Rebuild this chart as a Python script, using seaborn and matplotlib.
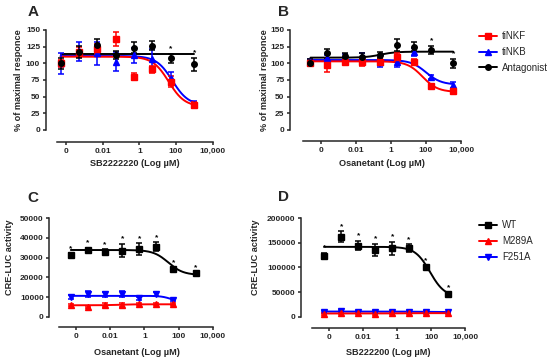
import numpy as np
import pandas as pd
import seaborn as sns
import matplotlib.pyplot as plt
from matplotlib.lines import Line2D

"""
values read off the figure, x is log10 of concentration (uM)
"""
conc = [-4.3, -3.3, -2.3, -1.3, -0.3, 0.7, 1.7, 3.0]
conc_b = [-4.6, -3.65, -2.65, -1.65, -0.65, 0.35, 1.3, 2.3, 3.55]
tick_pos = [-4, -2, 0, 2, 4]
tick_lab = ["0", "0.01", "1", "100", "10,000"]

# panel A (SB2222220)
a_tinkf = [100, 117, 121.5, 136.5, 80, 91, 72.5, 37.5]
a_tinkf_err = [5, 8, 8, 10, 5, 5, 8, 4]
a_tinkb = [100, 118, 115, 102.5, 112, 107, 77.5, 39]
a_tinkb_err = [16, 14, 17, 14, 11, 14, 10, 4]
a_antag = [100, 117.5, 127.5, 112.5, 123.5, 126.5, 107.5, 98.5]
a_antag_err = [8, 9, 9, 6, 8, 7, 7, 10]

# panel B (Osanetant)
b_tinkf = [100, 97.5, 102.5, 101.5, 102.5, 109, 102.5, 66, 59]
b_tinkf_err = [4, 10, 3, 6, 5, 6, 4, 3, 3]
b_tinkb = [102, 107.5, 110, 110, 102.5, 102.5, 117.5, 79, 67.5]
b_tinkb_err = [4, 5, 4, 6, 8, 8, 6, 3, 4]
b_antag = [101, 115, 111.5, 110, 112.5, 127.5, 125, 120, 100]
b_antag_err = [5, 7, 4, 5, 5, 9, 7, 6, 7]

# panel C (Osanetant, CRE-LUC)
c_wt = [31340, 33900, 33000, 33550, 34200, 35560, 24060, 22030]
c_wt_err = [800, 1000, 1200, 3400, 3000, 2200, 800, 500]
c_m289a = [5950, 5100, 5950, 5950, 6460, 6290, 6290]
c_m289a_err = [600, 500, 900, 1000, 600, 500, 500]
c_f251a = [10160, 11350, 11350, 11520, 9330, 11350, 8480]
c_f251a_err = [1000, 1500, 1200, 1500, 800, 1000, 700]

# panel D (SB222200, CRE-LUC)
d_wt = [123400, 162700, 144400, 135600, 139000, 139000, 100400, 45500]
d_wt_err = [7000, 11000, 9500, 12000, 13000, 8500, 2500, 2500]
d_m289a = [6000, 6500, 6500, 6000, 7000, 7000, 7500, 7000]
d_m289a_err = [2000, 2000, 2000, 2000, 2000, 2000, 2000, 2000]
d_f251a = [10000, 11500, 10500, 10000, 10500, 10500, 9500, 9000]
d_f251a_err = [1500, 1500, 1500, 1500, 1500, 1500, 1500, 1500]

# fitted curves: value at left, value at right, log mid point, slope
a_tinkf_fit = [110, 35, 1.6, 1.0]
a_tinkb_fit = [111, 37, 1.8, 1.0]
a_antag_fit = [113.5, 113.5, 0.0, 1.0]
b_tinkf_fit = [103, 57, 1.8, 1.0]
b_tinkb_fit = [105, 68, 2.0, 1.0]
b_antag_fit = [108.5, 117.5, -0.6, 1.0]
c_wt_fit = [33900, 21200, 1.4, 1.0]
c_m289a_fit = [5800, 6300, -1.5, 1.0]
c_f251a_fit = [10600, 7500, 1.55, 1.5]
d_wt_fit = [142000, 40000, 1.93, 1.0]
d_m289a_fit = [6500, 7200, 0.0, 1.0]
d_f251a_fit = [10500, 9500, 1.0, 1.0]

# points with a significance star
a_star = [6, 7]
b_star = [7, 8]
c_star = [0, 1, 2, 3, 4, 5, 6, 7]
d_star = [0, 1, 2, 3, 4, 5, 6, 7]

RED = "#ff0000"
BLUE = "#0000ff"
BLACK = "#000000"

sns.set_style("ticks")
plt.rcParams["font.family"] = ["Liberation Sans", "DejaVu Sans"]
plt.rcParams["font.weight"] = "bold"

fig = plt.figure(figsize=(5.5, 3.6), dpi=100)


def sigmoid(x, fit):
    left, right, mid, slope = fit
    return right + (left - right) / (1 + 10 ** ((x - mid) * slope))


def draw_series(ax, x, y, err, fit, color, marker, ms=4, stars=None):
    xs = np.linspace(x[0], x[-1], 200)
    sns.lineplot(x=xs, y=sigmoid(xs, fit), color=color, lw=1.4, ax=ax)
    ax.errorbar(x, y, yerr=err, fmt=marker, color=color, ms=ms,
                elinewidth=1.1, capsize=2, capthick=1.1, zorder=3, clip_on=False)
    if stars:
        for i in stars:
            ax.annotate("*", (x[i], y[i] + err[i]), xytext=(0, 1),
                        textcoords="offset points", ha="center", va="bottom",
                        fontsize=6, color=color, annotation_clip=False)


def style_axes(ax, xlim, spine_left, ylim, yticks, xlabel, ylabel, ylab_pos, xlab_pos, offset):
    ax.set_xlim(*xlim)
    ax.set_ylim(*ylim)
    ax.set_yticks(yticks)
    ax.set_xticks(tick_pos)
    ax.set_xticklabels(tick_lab)
    sns.despine(ax=ax)
    ax.spines["bottom"].set_position(("outward", offset))
    ax.spines["bottom"].set_bounds(spine_left, 4)
    for s in ["left", "bottom"]:
        ax.spines[s].set_linewidth(1.1)
    ax.tick_params(length=2.5, width=1.1, labelsize=6, pad=1.5)
    for lab in ax.get_xticklabels() + ax.get_yticklabels():
        lab.set_fontweight("bold")
    ax.set_xlabel(xlabel, fontsize=6.6, fontweight="bold")
    ax.set_ylabel(ylabel, fontsize=6.6, fontweight="bold")
    ax.xaxis.set_label_coords(*xlab_pos)
    ax.yaxis.set_label_coords(*ylab_pos)


# panel A
axA = fig.add_axes([0.0831, 0.6389, 0.3053, 0.2778])
draw_series(axA, conc, a_tinkb, a_tinkb_err, a_tinkb_fit, BLUE, "^")
draw_series(axA, conc, a_tinkf, a_tinkf_err, a_tinkf_fit, RED, "s")
draw_series(axA, conc, a_antag, a_antag_err, a_antag_fit, BLACK, "o", stars=a_star)
style_axes(axA, (-5.11, 4.05), -4.5, (0, 150), [0, 25, 50, 75, 100, 125, 150],
           "SB2222220 (Log µM)", "% of maximal responce", (-0.135, 0.5), (0.53, -0.29), 9)

# panel B
axB = fig.add_axes([0.5273, 0.6389, 0.3125, 0.2778])
draw_series(axB, conc_b, b_tinkb, b_tinkb_err, b_tinkb_fit, BLUE, "^")
draw_series(axB, conc_b, b_tinkf, b_tinkf_err, b_tinkf_fit, RED, "s")
draw_series(axB, conc_b, b_antag, b_antag_err, b_antag_fit, BLACK, "o", stars=b_star)
style_axes(axB, (-5.77, 4.05), -5, (0, 150), [0, 25, 50, 75, 100, 125, 150],
           "Osanetant (Log µM)", "% of maximal responce", (-0.12, 0.5), (0.533, -0.29), 8)

# panel C
axC = fig.add_axes([0.0896, 0.1203, 0.2987, 0.2733])
draw_series(axC, conc[:7], c_f251a, c_f251a_err, c_f251a_fit, BLUE, "v")
draw_series(axC, conc[:7], c_m289a, c_m289a_err, c_m289a_fit, RED, "^")
draw_series(axC, conc, c_wt, c_wt_err, c_wt_fit, BLACK, "s", stars=c_star)
style_axes(axC, (-5.56, 4.05), -5, (0, 50000), [0, 10000, 20000, 30000, 40000, 50000],
           "Osanetant (Log µM)", "CRE-LUC activity", (-0.215, 0.6), (0.532, -0.315), 7.5)

# panel D
axD = fig.add_axes([0.5473, 0.1203, 0.3, 0.2733])
draw_series(axD, conc, d_f251a, d_f251a_err, d_f251a_fit, BLUE, "v")
draw_series(axD, conc, d_m289a, d_m289a_err, d_m289a_fit, RED, "^")
draw_series(axD, conc, d_wt, d_wt_err, d_wt_fit, BLACK, "s", stars=d_star)
style_axes(axD, (-5.66, 4.05), -5, (0, 200000), [0, 50000, 100000, 150000, 200000],
           "SB222200 (Log µM)", "CRE-LUC activity", (-0.25, 0.6), (0.529, -0.315), 8.5)

# panel letters
for lab, x, y in [("A", 0.06, 0.967), ("B", 0.515, 0.967), ("C", 0.06, 0.45), ("D", 0.515, 0.453)]:
    fig.text(x, y, lab, fontsize=11, fontweight="bold", ha="center", va="center")

# legends
top_handles = [Line2D([], [], color=RED, marker="s", ms=4, lw=1.4),
               Line2D([], [], color=BLUE, marker="^", ms=4, lw=1.4),
               Line2D([], [], color=BLACK, marker="o", ms=4, lw=1.4)]
fig.legend(top_handles, ["tiNKF", "tiNKB", "Antagonist"], loc="upper left",
           bbox_to_anchor=(0.855, 0.938), frameon=False, handlelength=1.9,
           handletextpad=0.5, labelspacing=0.6,
           prop={"size": 7, "weight": "normal"})

bottom_handles = [Line2D([], [], color=BLACK, marker="s", ms=4, lw=1.4),
                  Line2D([], [], color=RED, marker="^", ms=4, lw=1.4),
                  Line2D([], [], color=BLUE, marker="v", ms=4, lw=1.4)]
fig.legend(bottom_handles, ["WT", "M289A", "F251A"], loc="upper left",
           bbox_to_anchor=(0.855, 0.412), frameon=False, handlelength=1.9,
           handletextpad=0.5, labelspacing=0.6,
           prop={"size": 7, "weight": "normal"})

plt.savefig("out.png", dpi=100)
